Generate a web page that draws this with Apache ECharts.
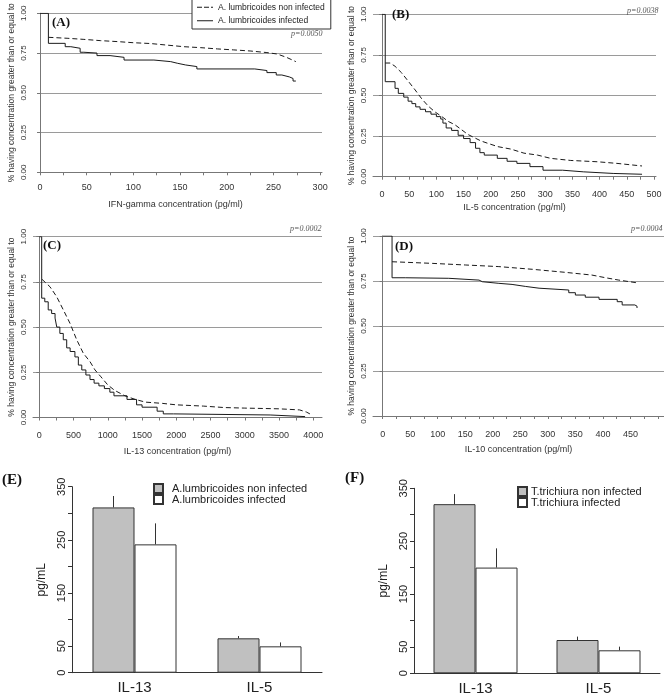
<!DOCTYPE html>
<html><head><meta charset="utf-8">
<script src="https://cdn.jsdelivr.net/npm/echarts@6/dist/echarts.min.js"></script>
<style>html,body{margin:0;padding:0;background:#fff}#c{width:664px;height:694px}</style>
</head><body><div id="c"></div>
<script>
// ---- Panel A: IFN-gamma ----
const ifnNonInfected = [[9,0.849],[29,0.843],[47,0.836],[65,0.828],[83,0.822],[100,0.815],[118,0.81],[136,0.80],[154,0.79],[172,0.784],[190,0.776],[207,0.77],[225,0.763],[243,0.753],[254,0.744],[264,0.723],[274,0.696]];
const ifnInfected = [[0,1],[9,0.811],[27,0.79],[33,0.78],[43,0.755],[47,0.75],[61,0.734],[75,0.723],[90,0.706],[122,0.696],[140,0.686],[147,0.675],[156,0.665],[168,0.65],[230,0.64],[243,0.627],[253,0.612],[259,0.60],[267,0.59],[271,0.574],[274,0.574]];
// ---- Panel B: IL-5 ----
const il5NonInfected = [[6,0.70],[15,0.70],[24,0.68],[36,0.64],[49,0.585],[61,0.534],[73,0.48],[85,0.435],[97,0.40],[110,0.37],[122,0.34],[134,0.32],[146,0.29],[158,0.26],[170,0.24],[182,0.22],[195,0.205],[213,0.185],[237,0.17],[261,0.145],[286,0.133],[310,0.113],[347,0.10],[396,0.092],[432,0.082],[478,0.066]];
const il5Infected = [[0,1],[6,0.585],[24,0.544],[30,0.513],[40,0.49],[48,0.465],[55,0.45],[62,0.43],[70,0.415],[80,0.40],[90,0.385],[100,0.37],[108,0.355],[112,0.33],[118,0.30],[128,0.285],[140,0.255],[150,0.235],[162,0.21],[172,0.175],[180,0.148],[188,0.133],[212,0.113],[230,0.095],[248,0.082],[272,0.062],[296,0.04],[332,0.03],[370,0.02],[425,0.015],[478,0.012]];
// ---- Panel C: IL-13 ----
const il13NonInfected = [[40,0.764],[156,0.723],[254,0.668],[351,0.595],[448,0.521],[546,0.43],[643,0.355],[740,0.309],[813,0.263],[900,0.225],[1000,0.18],[1100,0.15],[1250,0.12],[1400,0.10],[1550,0.085],[1800,0.078],[2000,0.07],[2400,0.063],[2700,0.055],[3000,0.052],[3500,0.048],[3800,0.042],[3900,0.03],[3950,0.02]];
const il13Infected = [[0,1],[35,0.66],[80,0.64],[130,0.595],[180,0.575],[230,0.55],[255,0.50],[300,0.465],[350,0.43],[400,0.385],[450,0.365],[520,0.335],[570,0.29],[620,0.263],[680,0.235],[740,0.21],[800,0.19],[870,0.175],[950,0.16],[1030,0.14],[1090,0.12],[1280,0.10],[1420,0.07],[1500,0.057],[1720,0.035],[1810,0.02],[1960,0.014],[3370,0.005],[3880,0.005]];
// ---- Panel D: IL-10 ----
const il10NonInfected = [[17,0.857],[90,0.848],[150,0.839],[211,0.83],[272,0.815],[332,0.798],[380,0.783],[405,0.768],[429,0.755],[462,0.74]];
const il10Infected = [[0,1],[17,0.768],[41,0.765],[120,0.755],[175,0.746],[181,0.737],[211,0.731],[235,0.72],[259,0.71],[284,0.70],[338,0.685],[350,0.672],[368,0.66],[393,0.648],[426,0.635],[435,0.617],[458,0.61],[462,0.60]];

const pValues = ['p=0.0050','p=0.0038','p=0.0002','p=0.0004'];
const panelLabels = ['(A)','(B)','(C)','(D)','(E)','(F)'];
const xTitles = ['IFN-gamma concentration (pg/ml)','IL-5 concentration (pg/ml)','IL-13 concentration (pg/ml)','IL-10 concentration (pg/ml)'];
const yTitle = '% having concentration greater than or equal to';
const xTicksA = [0,25,50,75,100,125,150,175,200,225,250,275,300];
const xLabelsA = [0,50,100,150,200,250,300];
const xTicksB = [0,25,50,75,100,125,150,175,200,225,250,275,300,325,350,375,400,425,450,475,500];
const xLabelsB = [0,50,100,150,200,250,300,350,400,450,500];
const xTicksC = [0,250,500,750,1000,1250,1500,1750,2000,2250,2500,2750,3000,3250,3500,3750,4000];
const xLabelsC = [0,500,1000,1500,2000,2500,3000,3500,4000];
const xTicksD = xTicksB;
const xLabelsD = [0,50,100,150,200,250,300,350,400,450];

// ---- Panels E, F: bars ----
const barCategories = ['IL-13','IL-5'];
const barTickLabels = [0,50,150,250,350];
const ascNonInfected = [311, 64.7];
const ascNonInfectedErr = [332.5, 69];
const ascInfected = [241.5, 49.6];
const ascInfectedErr = [281, 57];
const triNonInfected = [320, 63];
const triNonInfectedErr = [339, 69.4];
const triInfected = [200, 43.5];
const triInfectedErr = [236.4, 50.4];

const SANS = 'Liberation Sans, Arial, sans-serif';
const SERIF = 'Liberation Serif, Times New Roman, serif';
const LINE = '#1a1a1a';
const GRIDC = '#9a9a9a';
const AXC = '#777';

const kmGrids = [
  {left:40, top:13.3, width:282, height:159},
  {left:373, top:14.3, width:283, height:162.4},
  {left:33, top:236.7, width:289, height:180.8},
  {left:373, top:236, width:291, height:180}
];
const kmX = [
  {min:0, max:302, ticks:xTicksA, labels:xLabelsA, offset:6, gap:22, pad:[0,11,0,0], margin:5},
  {min:-16.5, max:503.7, ticks:xTicksB, labels:xLabelsB, offset:7, gap:19, pad:0, margin:6},
  {min:-92, max:4127, ticks:xTicksC, labels:xLabelsC, offset:7, gap:23, pad:0, margin:7},
  {min:-17.6, max:511, ticks:xTicksD, labels:xLabelsD, offset:7, gap:22, pad:0, margin:7}
];
const kmYOffset = [7,0,0,0];
const kmMinLine = [false,true,true,false];

const grid = kmGrids.concat([
  {left:72, top:486.7, width:250, height:186},
  {left:414, top:488.3, width:246, height:185}
]).map(g=>Object.assign({outerBoundsMode:'none', containLabel:false}, g));

const xAxis = [], yAxis = [];
kmX.forEach((c,i)=>{
  xAxis.push({
    type:'value', gridIndex:i, min:c.min, max:c.max, offset:c.offset,
    name:xTitles[i], nameLocation:'middle', nameGap:c.gap,
    nameTextStyle:{fontFamily:SANS, fontSize:9, color:'#333', padding:c.pad},
    axisLine:{show:true, lineStyle:{color:AXC, width:1}},
    axisTick:{show:true, length:3, customValues:c.ticks, lineStyle:{color:AXC}},
    axisLabel:{customValues:c.labels, fontFamily:SANS, fontSize:9, color:'#333', margin:c.margin, formatter:v=>String(v)},
    splitLine:{show:false}
  });
  yAxis.push({
    type:'value', gridIndex:i, min:0, max:1, interval:0.25, offset:kmYOffset[i],
    name:yTitle, nameLocation:'middle', nameGap:17,
    nameTextStyle:{fontFamily:SANS, fontSize:8.5, color:'#333'},
    axisLine:{show:true, lineStyle:{color:AXC, width:1}},
    axisTick:{show:true, length:3, lineStyle:{color:AXC}},
    axisLabel:{rotate:90, fontFamily:SANS, fontSize:8, color:'#333', margin:5, formatter:v=>v.toFixed(2)},
    splitLine:{show:true, showMinLine:kmMinLine[i], lineStyle:{color:GRIDC, width:1}}
  });
});
[4,5].forEach(i=>{
  xAxis.push({
    type:'category', gridIndex:i, data:barCategories,
    axisLine:{show:true, lineStyle:{color:'#333', width:1}},
    axisTick:{show:false},
    axisLabel:{fontFamily:SANS, fontSize:15, color:'#222', margin:8}
  });
  yAxis.push({
    type:'value', gridIndex:i, min:0, max:350, interval:50,
    name:'pg/mL', nameLocation:'middle', nameGap:24,
    nameTextStyle:{fontFamily:SANS, fontSize:12, color:'#222'},
    axisLine:{show:true, lineStyle:{color:'#333', width:1}},
    axisTick:{show:true, length:4, lineStyle:{color:'#333'}},
    axisLabel:{rotate:90, fontFamily:SANS, fontSize:11, color:'#222', margin:5,
      formatter:v=>barTickLabels.includes(v)?String(v):''},
    splitLine:{show:false}
  });
});

const KMNON = 'A. lumbricoides non infected';
const KMINF = 'A. lumbricoides infected';
const series = [];
[[ifnNonInfected, ifnInfected],[il5NonInfected, il5Infected],[il13NonInfected, il13Infected],[il10NonInfected, il10Infected]].forEach((pair,i)=>{
  series.push({type:'line', name:KMINF, xAxisIndex:i, yAxisIndex:i, data:pair[1], step:'end',
    symbol:'none', lineStyle:{color:LINE, width:1}, itemStyle:{color:LINE}, animation:false, z:3});
  series.push({type:'line', name:KMNON, xAxisIndex:i, yAxisIndex:i, data:pair[0],
    symbol:'none', lineStyle:{color:LINE, width:1, type:[5,3]}, itemStyle:{color:LINE}, animation:false, z:3});
});

function errSeries(idx, vals, errs, off){
  return {type:'custom', xAxisIndex:idx, yAxisIndex:idx, z:5, animation:false,
    data: vals.map((v,k)=>[k, v, errs[k]]),
    renderItem:(p, api)=>{
      const b = api.coord([api.value(0), api.value(1)]);
      const t = api.coord([api.value(0), api.value(2)]);
      const x = b[0] + off;
      return {type:'line', shape:{x1:x, y1:b[1], x2:x, y2:t[1]}, style:{stroke:'#333', lineWidth:1}};
    }};
}
const barSets = [
  {idx:4, names:['A.lumbricoides non infected','A.lumbricoides infected'], v:[ascNonInfected, ascInfected], e:[ascNonInfectedErr, ascInfectedErr]},
  {idx:5, names:['T.trichiura non infected','T.trichiura infected'], v:[triNonInfected, triInfected], e:[triNonInfectedErr, triInfectedErr]}
];
barSets.forEach(s=>{
  series.push({type:'bar', name:s.names[0], xAxisIndex:s.idx, yAxisIndex:s.idx, data:s.v[0], barWidth:42, barGap:'0%',
    itemStyle:{color:'#c0c0c0', borderColor:'#333', borderWidth:1}, animation:false});
  series.push({type:'bar', name:s.names[1], xAxisIndex:s.idx, yAxisIndex:s.idx, data:s.v[1], barWidth:42, barGap:'0%',
    itemStyle:{color:'#ffffff', borderColor:'#333', borderWidth:1}, animation:false});
  series.push(errSeries(s.idx, s.v[0], s.e[0], -21));
  series.push(errSeries(s.idx, s.v[1], s.e[1], 21));
});

const labelPos = [[52,16.5,13],[392,8,13],[43,239,13],[395,240.5,13],[2,473,15],[345,471,15]];
const pPos = [[291,30],[627,7],[290,224.5],[631,224.5]];
const title = [];
panelLabels.forEach((t,i)=>title.push({text:t, left:labelPos[i][0], top:labelPos[i][1], padding:0,
  textStyle:{fontFamily:SERIF, fontWeight:'bold', fontSize:labelPos[i][2], color:'#111'}}));
pValues.forEach((t,i)=>title.push({text:t, left:pPos[i][0], top:pPos[i][1], padding:0,
  textStyle:{fontFamily:SERIF, fontStyle:'italic', fontWeight:'normal', fontSize:8, color:'#555'}}));

const DASH_ICON = 'path://M0,0H5V1H0Z M7,0H12V1H7Z M14,0H16V1H14Z';
const SOLID_ICON = 'path://M0,0H16V1H0Z';
const legend = [
  {data:[{name:KMNON, icon:DASH_ICON}, {name:KMINF, icon:SOLID_ICON}], orient:'vertical', left:192, top:-1,
    itemWidth:16, itemHeight:1, itemGap:3,
    padding:[3,6,3,5], borderColor:'#333', borderWidth:1, selectedMode:false, backgroundColor:'#fff',
    itemStyle:{color:LINE, borderWidth:0},
    textStyle:{fontFamily:SANS, fontSize:8.5, color:'#222', lineHeight:10.5}},
  {data:barSets[0].names, orient:'vertical', left:153, top:483, itemWidth:9, itemHeight:9, itemGap:0, icon:'rect',
    padding:0, selectedMode:false, textStyle:{fontFamily:SANS, fontSize:11, color:'#222', padding:[0,0,0,4]}},
  {data:barSets[1].names, orient:'vertical', left:517, top:486, itemWidth:9, itemHeight:9, itemGap:0, icon:'rect',
    padding:0, selectedMode:false, textStyle:{fontFamily:SANS, fontSize:11, color:'#222', padding:[0,0,0,-1]}}
];

const chart = echarts.init(document.getElementById('c'), null, {renderer:'canvas'});
chart.setOption({animation:false, backgroundColor:'#fff', title, legend, grid, xAxis, yAxis, series});
</script></body></html>
